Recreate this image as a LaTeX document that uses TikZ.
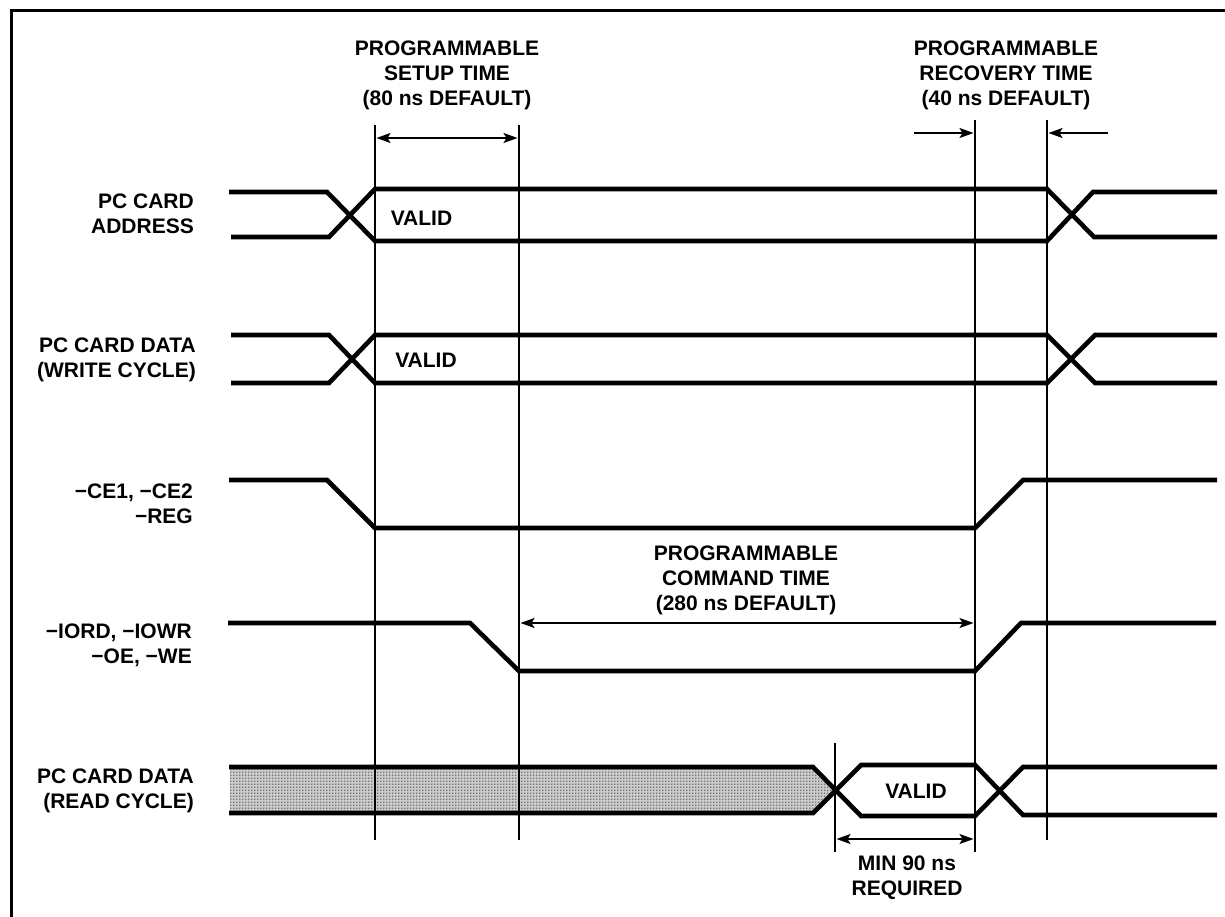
\documentclass[tikz,border=0pt]{standalone}
\usepackage{fontspec}
\setmainfont{Liberation Sans}
\usetikzlibrary{arrows.meta,patterns}
\pgfdeclarepatternformonly{ditherdots}{\pgfqpoint{0pt}{0pt}}{\pgfqpoint{3.2pt}{3.2pt}}{\pgfqpoint{3.2pt}{3.2pt}}{%
  \pgfpathrectangle{\pgfqpoint{0pt}{0pt}}{\pgfqpoint{1.6pt}{1.6pt}}%
  \pgfusepath{fill}}
\tikzset{
 x=1pt,y=-1pt,
 wave/.style={line width=4.6pt,line cap=butt,line join=miter,miter limit=3,black},
 guide/.style={line width=1.9pt,black},
 dim/.style={line width=1.5pt,black,shorten <=1.5pt,shorten >=1.5pt,{Stealth[length=14pt,width=10pt,inset=3pt]}-{Stealth[length=14pt,width=10pt,inset=3pt]}},
 dimr/.style={line width=1.5pt,black,shorten >=1.5pt,-{Stealth[length=14pt,width=10pt,inset=3pt]}},
 txt/.style={font=\bfseries\fontsize{21pt}{25pt}\selectfont,inner sep=0pt,align=center},
 lab/.style={font=\bfseries\fontsize{21pt}{25pt}\selectfont,inner sep=0pt,align=right,anchor=east},
}
\definecolor{shadegray}{gray}{0.8}
\definecolor{dithergray}{gray}{0.45}
\newcommand{\mn}{\textminus}
\begin{document}
\begin{tikzpicture}
\useasboundingbox (0,0) rectangle (1225,917);
\fill[white] (0,0) rectangle (1225,917);
\draw[line width=3pt] (1225,11) -- (11,11) -- (11,917);
% guides
\coordinate (g1t) at (375,125); \coordinate (g1b) at (375,840);
\coordinate (g2t) at (519,125); \coordinate (g2b) at (519,840);
\coordinate (g3t) at (975,120); \coordinate (g3b) at (975,852);
\coordinate (g4t) at (1047,120); \coordinate (g4b) at (1047,840);
\coordinate (g5t) at (835,743); \coordinate (g5b) at (835,852);
% shaded bus
\fill[shadegray] (230,767) -- (813,767) -- (835,790) -- (813,813) -- (230,813) -- cycle;
\fill[pattern=ditherdots,pattern color=dithergray] (230,767) -- (813,767) -- (835,790) -- (813,813) -- (230,813) -- cycle;
\foreach \a/\b in {g1t/g1b,g2t/g2b,g3t/g3b,g4t/g4b,g5t/g5b} \draw[guide] (\a) -- (\b);
% address
\draw[wave] (229,192) -- (327,192) -- (375,241) -- (1047,241) -- (1093,192) -- (1217,192);
\draw[wave] (231,237) -- (329,237) -- (375,189) -- (1047,189) -- (1094,237) -- (1217,237);
% write data
\draw[wave] (231,335) -- (329,335) -- (375,383) -- (1047,383) -- (1095,335) -- (1217,335);
\draw[wave] (231,383) -- (329,383) -- (375,335) -- (1047,335) -- (1095,383) -- (1217,383);
% CE
\draw[wave] (229,480) -- (327,480) -- (375,528) -- (975,528) -- (1023,480) -- (1217,480);
% IORD
\draw[wave] (228,623) -- (470,623) -- (519,671) -- (975,671) -- (1021,623) -- (1216,623);
% read data
\draw[wave] (229,767) -- (813,767) -- (861,816) -- (975,816) -- (1023,767) -- (1217,767);
\draw[wave] (229,813) -- (813,813) -- (861,765) -- (975,765) -- (1023,815) -- (1217,815);
% dimensions
\coordinate (s1) at (375,138); \coordinate (s2) at (519,138);
\draw[dim] (s1) -- (s2);
\coordinate (r1) at (914,133); \coordinate (r2) at (1108,133);
\coordinate (r1e) at (975,133); \coordinate (r2e) at (1047,133);
\draw[dimr] (r1) -- (r1e);
\draw[dimr] (r2) -- (r2e);
\coordinate (c1) at (519,623); \coordinate (c2) at (975,623);
\draw[dim] (c1) -- (c2);
\coordinate (m1) at (835,839); \coordinate (m2) at (975,839);
\draw[dim] (m1) -- (m2);
% texts
\node[txt] (t1) at (447,75) {PROGRAMMABLE\\SETUP TIME\\(80 ns DEFAULT)};
\node[txt] (t2) at (1006,75) {PROGRAMMABLE\\RECOVERY TIME\\(40 ns DEFAULT)};
\node[txt] (t3) at (746,580) {PROGRAMMABLE\\COMMAND TIME\\(280 ns DEFAULT)};
\node[txt] (t4) at (907,877.5) {MIN 90 ns\\REQUIRED};
\node[txt] (v1) at (421.5,218) {VALID};
\node[txt] (v2) at (426,360) {VALID};
\node[txt] (v3) at (916,791) {VALID};
\node[lab] (l1) at (194,213.5) {PC CARD\\ADDRESS};
\node[lab] (l2) at (196,360) {PC CARD DATA\\(WRITE CYCLE)};
\node[lab] (l3) at (193,504) {\mn CE1, \mn CE2\\\mn REG};
\node[lab] (l4) at (192,645) {\mn IORD, \mn IOWR\\\mn OE, \mn WE};
\node[lab] (l5) at (194,791) {PC CARD DATA\\(READ CYCLE)};
\end{tikzpicture}
\end{document}
